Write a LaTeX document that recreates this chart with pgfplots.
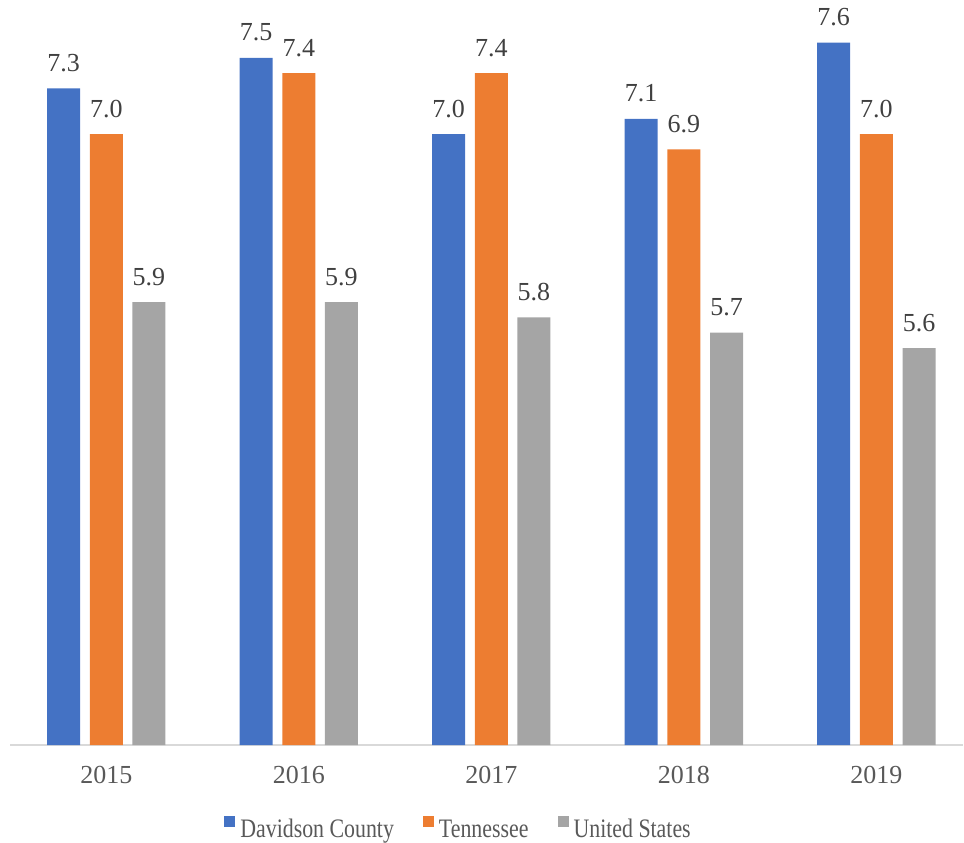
\documentclass[border=0pt]{standalone}
\usepackage{pgfplots}
\pgfplotsset{compat=1.18}
\usepackage{fontspec}
\setmainfont{Liberation Serif}
\newfontfamily\legfont[FakeStretch=0.82]{Liberation Serif}
\definecolor{cblue}{HTML}{4472C4}
\definecolor{corange}{HTML}{ED7D31}
\definecolor{cgray}{HTML}{A5A5A5}
\definecolor{txt}{HTML}{404040}
\definecolor{tick}{HTML}{595959}
\definecolor{axl}{HTML}{D9D9D9}
\begin{document}
\begin{tikzpicture}
\begin{axis}[
  scale only axis,
  width=714.75pt, height=555.5pt,
  xmin=-0.5, xmax=4.45,
  ymin=3, ymax=7.85,
  ybar=7.25pt, bar width=24.75pt,
  axis x line=bottom, axis y line=none,
  x axis line style={draw=axl, line width=1.1pt, -},
  ytick=\empty,
  xtick={0,1,2,3,4},
  xticklabels={2015,2016,2017,2018,2019},
  major tick length=0pt,
  xticklabel style={font=\fontsize{19.5}{21}\selectfont, text=tick, anchor=base, inner sep=0pt, yshift=-28.5pt},
  nodes near coords,
  nodes near coords style={font=\fontsize{19.5}{21}\selectfont, text=txt, anchor=base, inner sep=0pt, yshift=12.75pt,
    /pgf/number format/.cd, fixed, fixed zerofill, precision=1, assume math mode=true},
  clip=false,
  legend columns=3,
  legend style={draw=none, at={(rel axis cs:0.4696,-0.112)}, anchor=center,
    font=\legfont\fontsize{20}{22}\selectfont, text=tick,
    nodes={inner sep=0pt},
    /tikz/every odd column/.append style={column sep=3.75pt},
    /tikz/every even column/.append style={column sep=21.75pt}},
  legend image code/.code={\fill[#1] (0pt,2pt) rectangle (8.25pt,10.25pt);},
]
\addplot[fill=cblue, draw=none] coordinates {(0,7.3) (1,7.5) (2,7.0) (3,7.1) (4,7.6)};
\addplot[fill=corange, draw=none] coordinates {(0,7.0) (1,7.4) (2,7.4) (3,6.9) (4,7.0)};
\addplot[fill=cgray, draw=none] coordinates {(0,5.9) (1,5.9) (2,5.8) (3,5.7) (4,5.6)};
\legend{Davidson County, Tennessee, United States}
\coordinate (bl) at (rel axis cs:0,0);
\coordinate (tr) at (rel axis cs:1,1);
\end{axis}
\pgfresetboundingbox
\path ([shift={(-7.5pt,-72.75pt)}]bl) rectangle ([shift={(0.75pt,3.3pt)}]tr);
\end{tikzpicture}
\end{document}
